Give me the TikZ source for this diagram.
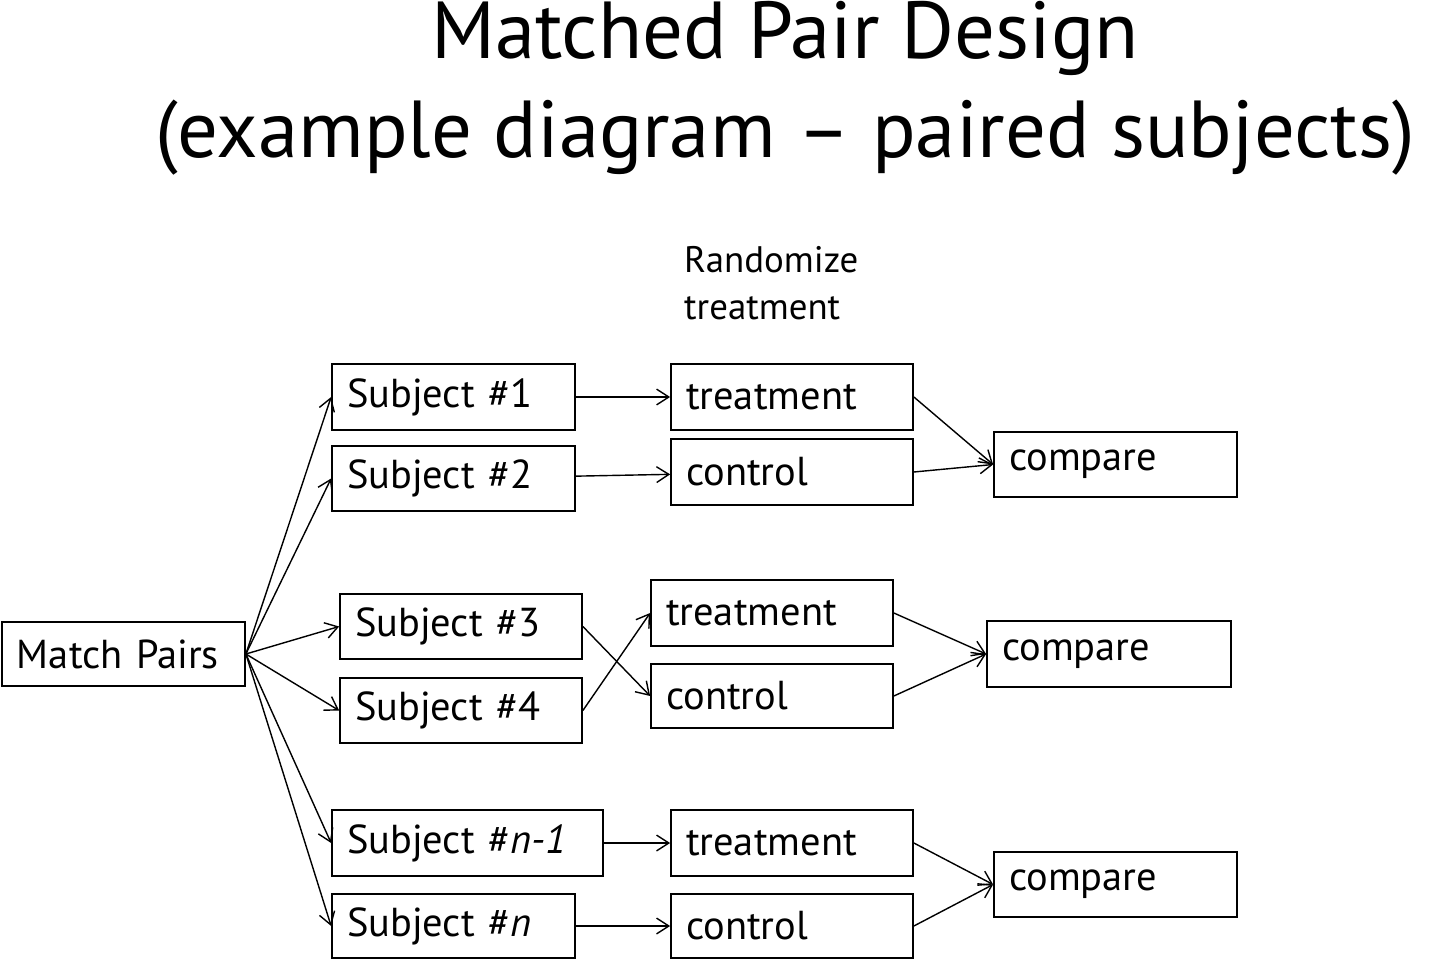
\documentclass[tikz,border=0pt]{standalone}
\usepackage{fontspec}
\setmainfont{PT Sans}
\usetikzlibrary{arrows.meta}
\begin{document}
\begin{tikzpicture}[x=0.02cm,y=-0.02cm,
  bx/.style={draw,line width=1pt,align=left,inner sep=0pt,font=\fontsize{23}{27}\selectfont},
  ar/.style={-{Straight Barb[length=7pt,width=9pt]},line width=0.8pt}]
\useasboundingbox (0,0) rectangle (1440,959);
\newcommand\bx[6]{\node[bx,minimum width={(#4-#2)*0.02cm},minimum height={(#5-#3)*0.02cm},text width={(#4-#2)*0.02cm-0.6cm}] (#1) at ({(#2+#4)/2},{(#3+#5)/2}) {\mbox{#6}};}
\node[font=\fontsize{46}{50}\selectfont] (t1) at (785,38) {Matched Pair Design};
\node[font=\fontsize{46}{50}\selectfont] (t2) at (785,138) {(example diagram – paired subjects)};
\node[font=\fontsize{21}{27}\selectfont,align=left,anchor=north west] (rt) at (678,240) {Randomize\\treatment};
\bx{mp}{2}{622}{245}{686}{Match Pairs}
\bx{s1}{332}{364}{575}{430}{Subject \#1}
\bx{s2}{332}{446}{575}{511}{Subject \#2}
\bx{s3}{340}{594}{582}{659}{Subject \#3}
\bx{s4}{340}{678}{582}{743}{Subject \#4}
\bx{s5}{332}{810}{603}{876}{Subject \#\textit{n-1}}
\bx{s6}{332}{894}{575}{958}{Subject \#\textit{n}}
\bx{t1b}{671}{364}{913}{430}{treatment}
\bx{c1}{671}{439}{913}{505}{control}
\bx{t2b}{651}{580}{893}{646}{treatment}
\bx{c2}{651}{664}{893}{728}{control}
\bx{t3b}{671}{810}{913}{876}{treatment}
\bx{c3}{671}{894}{913}{958}{control}
\bx{p1}{994}{432}{1237}{497}{compare}
\bx{p2}{987}{621}{1231}{687}{compare}
\bx{p3}{994}{852}{1237}{917}{compare}
\foreach \s in {s1,s2,s3,s4,s5,s6} \draw[ar] (mp.east) -- (\s.west);
\draw[ar] (s1) -- (t1b); \draw[ar] (s2) -- (c1);
\draw[ar] (s3.east) -- (c2.west); \draw[ar] (s4.east) -- (t2b.west);
\draw[ar] (s5) -- (t3b); \draw[ar] (s6) -- (c3);
\draw[ar] (t1b.east) -- (p1.west); \draw[ar] (c1.east) -- (p1.west);
\draw[ar] (t2b.east) -- (p2.west); \draw[ar] (c2.east) -- (p2.west);
\draw[ar] (t3b.east) -- (p3.west); \draw[ar] (c3.east) -- (p3.west);
\end{tikzpicture}
\end{document}
